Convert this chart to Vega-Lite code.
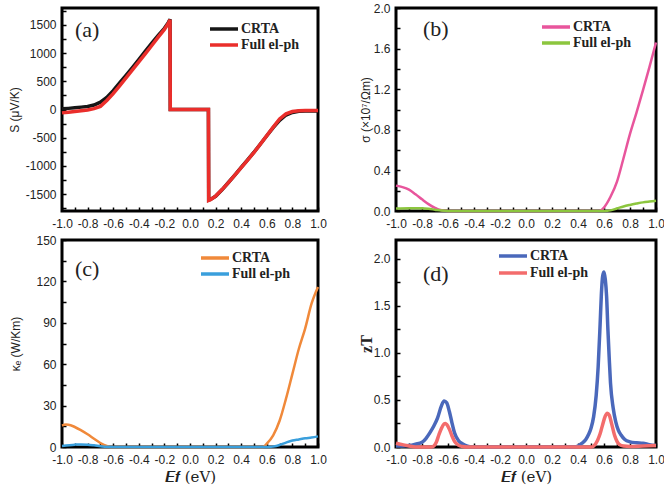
{
  "$schema": "https://vega.github.io/schema/vega-lite/v6.json",
  "padding": {"left": 6, "top": 0, "right": 0, "bottom": 4},
  "columns": 2,
  "spacing": {"row": 29, "column": 78},
  "bounds": "flush",
  "resolve": {
    "scale": {"x": "independent", "y": "independent", "color": "independent"},
    "legend": {"color": "independent"}
  },
  "config": {
    "view": {"stroke": "#000", "strokeWidth": 3},
    "axis": {
      "domain": false, "grid": false,
      "labelFont": "Liberation Sans", "labelFontSize": 12, "labelColor": "#222",
      "tickColor": "#000", "tickWidth": 1.5, "tickSize": -4, "labelPadding": 10,
      "labelOverlap": false, "labelFlush": false,
      "titleFont": "Liberation Sans", "titleFontSize": 12, "titleFontWeight": "normal", "titleColor": "#222"
    },
    "axisX": {"labelPadding": 11},
    "legend": {
      "orient": "none", "symbolType": "M-2,0H2", "symbolSize": 196, "symbolStrokeWidth": 3.5,
      "labelFont": "Liberation Serif", "labelFontWeight": "bold", "labelFontSize": 14,
      "labelColor": "#222", "rowPadding": 0, "labelOffset": 8
    },
    "title": {
      "anchor": "start", "frame": "group", "font": "Liberation Serif", "fontSize": 22,
      "fontWeight": "normal", "color": "#222"
    }
  },
  "datasets": {
    "a": [
      {"x": -1, "s": "CRTA", "v": 12}, {"x": -0.95, "s": "CRTA", "v": 20}, {"x": -0.9, "s": "CRTA", "v": 30},
      {"x": -0.85, "s": "CRTA", "v": 42}, {"x": -0.8, "s": "CRTA", "v": 55}, {"x": -0.75, "s": "CRTA", "v": 80},
      {"x": -0.7, "s": "CRTA", "v": 130}, {"x": -0.65, "s": "CRTA", "v": 215}, {"x": -0.6, "s": "CRTA", "v": 335},
      {"x": -0.55, "s": "CRTA", "v": 470}, {"x": -0.5, "s": "CRTA", "v": 607}, {"x": -0.45, "s": "CRTA", "v": 745},
      {"x": -0.4, "s": "CRTA", "v": 887}, {"x": -0.35, "s": "CRTA", "v": 1030}, {"x": -0.3, "s": "CRTA", "v": 1172},
      {"x": -0.25, "s": "CRTA", "v": 1310}, {"x": -0.2, "s": "CRTA", "v": 1440}, {"x": -0.17, "s": "CRTA", "v": 1540},
      {"x": -0.156, "s": "CRTA", "v": 1600}, {"x": -0.154, "s": "CRTA", "v": 0}, {"x": 0, "s": "CRTA", "v": 0},
      {"x": 0.144, "s": "CRTA", "v": 0}, {"x": 0.146, "s": "CRTA", "v": -1605}, {"x": 0.16, "s": "CRTA", "v": -1595},
      {"x": 0.2, "s": "CRTA", "v": -1540}, {"x": 0.25, "s": "CRTA", "v": -1425}, {"x": 0.3, "s": "CRTA", "v": -1295},
      {"x": 0.35, "s": "CRTA", "v": -1162}, {"x": 0.4, "s": "CRTA", "v": -1028}, {"x": 0.45, "s": "CRTA", "v": -893},
      {"x": 0.5, "s": "CRTA", "v": -758}, {"x": 0.55, "s": "CRTA", "v": -612}, {"x": 0.6, "s": "CRTA", "v": -466},
      {"x": 0.65, "s": "CRTA", "v": -322}, {"x": 0.7, "s": "CRTA", "v": -192}, {"x": 0.75, "s": "CRTA", "v": -98},
      {"x": 0.8, "s": "CRTA", "v": -52}, {"x": 0.85, "s": "CRTA", "v": -32}, {"x": 0.9, "s": "CRTA", "v": -26},
      {"x": 0.95, "s": "CRTA", "v": -24}, {"x": 1, "s": "CRTA", "v": -26},
      {"x": -1, "s": "Full el-ph", "v": -60}, {"x": -0.95, "s": "Full el-ph", "v": -48}, {"x": -0.9, "s": "Full el-ph", "v": -35},
      {"x": -0.85, "s": "Full el-ph", "v": -22}, {"x": -0.8, "s": "Full el-ph", "v": -10}, {"x": -0.75, "s": "Full el-ph", "v": 15},
      {"x": -0.7, "s": "Full el-ph", "v": 55}, {"x": -0.65, "s": "Full el-ph", "v": 160}, {"x": -0.6, "s": "Full el-ph", "v": 280},
      {"x": -0.55, "s": "Full el-ph", "v": 420}, {"x": -0.5, "s": "Full el-ph", "v": 560}, {"x": -0.45, "s": "Full el-ph", "v": 702},
      {"x": -0.4, "s": "Full el-ph", "v": 845}, {"x": -0.35, "s": "Full el-ph", "v": 987}, {"x": -0.3, "s": "Full el-ph", "v": 1130},
      {"x": -0.25, "s": "Full el-ph", "v": 1278}, {"x": -0.2, "s": "Full el-ph", "v": 1420}, {"x": -0.17, "s": "Full el-ph", "v": 1525},
      {"x": -0.156, "s": "Full el-ph", "v": 1590}, {"x": -0.154, "s": "Full el-ph", "v": 0}, {"x": 0, "s": "Full el-ph", "v": 0},
      {"x": 0.144, "s": "Full el-ph", "v": 0}, {"x": 0.146, "s": "Full el-ph", "v": -1612}, {"x": 0.16, "s": "Full el-ph", "v": -1600},
      {"x": 0.2, "s": "Full el-ph", "v": -1535}, {"x": 0.25, "s": "Full el-ph", "v": -1420}, {"x": 0.3, "s": "Full el-ph", "v": -1297},
      {"x": 0.35, "s": "Full el-ph", "v": -1165}, {"x": 0.4, "s": "Full el-ph", "v": -1030}, {"x": 0.45, "s": "Full el-ph", "v": -896},
      {"x": 0.5, "s": "Full el-ph", "v": -762}, {"x": 0.55, "s": "Full el-ph", "v": -614}, {"x": 0.6, "s": "Full el-ph", "v": -464},
      {"x": 0.65, "s": "Full el-ph", "v": -312}, {"x": 0.7, "s": "Full el-ph", "v": -168}, {"x": 0.75, "s": "Full el-ph", "v": -78},
      {"x": 0.8, "s": "Full el-ph", "v": -36}, {"x": 0.85, "s": "Full el-ph", "v": -22}, {"x": 0.9, "s": "Full el-ph", "v": -18},
      {"x": 0.95, "s": "Full el-ph", "v": -16}, {"x": 1, "s": "Full el-ph", "v": -18}
    ],
    "b": [
      {"x": -1, "s": "CRTA", "v": 0.25}, {"x": -0.95, "s": "CRTA", "v": 0.235}, {"x": -0.9, "s": "CRTA", "v": 0.21},
      {"x": -0.85, "s": "CRTA", "v": 0.165}, {"x": -0.8, "s": "CRTA", "v": 0.115}, {"x": -0.75, "s": "CRTA", "v": 0.068},
      {"x": -0.7, "s": "CRTA", "v": 0.03}, {"x": -0.65, "s": "CRTA", "v": 0.007}, {"x": -0.6, "s": "CRTA", "v": 0},
      {"x": 0, "s": "CRTA", "v": 0}, {"x": 0.55, "s": "CRTA", "v": 0}, {"x": 0.58, "s": "CRTA", "v": 0.01},
      {"x": 0.6, "s": "CRTA", "v": 0.035}, {"x": 0.65, "s": "CRTA", "v": 0.14}, {"x": 0.7, "s": "CRTA", "v": 0.29},
      {"x": 0.75, "s": "CRTA", "v": 0.52}, {"x": 0.8, "s": "CRTA", "v": 0.76}, {"x": 0.85, "s": "CRTA", "v": 0.97},
      {"x": 0.9, "s": "CRTA", "v": 1.19}, {"x": 0.95, "s": "CRTA", "v": 1.42}, {"x": 1, "s": "CRTA", "v": 1.66},
      {"x": -1, "s": "Full el-ph", "v": 0.025}, {"x": -0.9, "s": "Full el-ph", "v": 0.028}, {"x": -0.8, "s": "Full el-ph", "v": 0.027},
      {"x": -0.75, "s": "Full el-ph", "v": 0.022}, {"x": -0.7, "s": "Full el-ph", "v": 0.013}, {"x": -0.65, "s": "Full el-ph", "v": 0.004},
      {"x": -0.6, "s": "Full el-ph", "v": 0}, {"x": 0, "s": "Full el-ph", "v": 0}, {"x": 0.6, "s": "Full el-ph", "v": 0},
      {"x": 0.65, "s": "Full el-ph", "v": 0.006}, {"x": 0.7, "s": "Full el-ph", "v": 0.025}, {"x": 0.75, "s": "Full el-ph", "v": 0.045},
      {"x": 0.8, "s": "Full el-ph", "v": 0.06}, {"x": 0.85, "s": "Full el-ph", "v": 0.073}, {"x": 0.9, "s": "Full el-ph", "v": 0.085},
      {"x": 0.95, "s": "Full el-ph", "v": 0.093}, {"x": 1, "s": "Full el-ph", "v": 0.1}
    ],
    "c": [
      {"x": -1, "s": "CRTA", "v": 15.5}, {"x": -0.97, "s": "CRTA", "v": 16.3}, {"x": -0.95, "s": "CRTA", "v": 16.2},
      {"x": -0.9, "s": "CRTA", "v": 14.5}, {"x": -0.85, "s": "CRTA", "v": 12}, {"x": -0.8, "s": "CRTA", "v": 9.2},
      {"x": -0.75, "s": "CRTA", "v": 6}, {"x": -0.7, "s": "CRTA", "v": 2.9}, {"x": -0.65, "s": "CRTA", "v": 0.7},
      {"x": -0.62, "s": "CRTA", "v": 0}, {"x": 0, "s": "CRTA", "v": 0}, {"x": 0.57, "s": "CRTA", "v": 0},
      {"x": 0.6, "s": "CRTA", "v": 2.4}, {"x": 0.65, "s": "CRTA", "v": 8.5}, {"x": 0.7, "s": "CRTA", "v": 19},
      {"x": 0.75, "s": "CRTA", "v": 35}, {"x": 0.8, "s": "CRTA", "v": 53}, {"x": 0.85, "s": "CRTA", "v": 71},
      {"x": 0.9, "s": "CRTA", "v": 86}, {"x": 0.95, "s": "CRTA", "v": 104}, {"x": 1, "s": "CRTA", "v": 116},
      {"x": -1, "s": "Full el-ph", "v": 0.8}, {"x": -0.9, "s": "Full el-ph", "v": 1.7}, {"x": -0.85, "s": "Full el-ph", "v": 1.9},
      {"x": -0.8, "s": "Full el-ph", "v": 1.7}, {"x": -0.75, "s": "Full el-ph", "v": 1.2}, {"x": -0.7, "s": "Full el-ph", "v": 0.6},
      {"x": -0.65, "s": "Full el-ph", "v": 0.1}, {"x": -0.6, "s": "Full el-ph", "v": 0}, {"x": 0, "s": "Full el-ph", "v": 0},
      {"x": 0.62, "s": "Full el-ph", "v": 0}, {"x": 0.65, "s": "Full el-ph", "v": 0.3}, {"x": 0.7, "s": "Full el-ph", "v": 1.4},
      {"x": 0.75, "s": "Full el-ph", "v": 3.2}, {"x": 0.8, "s": "Full el-ph", "v": 4.7}, {"x": 0.85, "s": "Full el-ph", "v": 5.5},
      {"x": 0.9, "s": "Full el-ph", "v": 6.3}, {"x": 0.95, "s": "Full el-ph", "v": 6.9}, {"x": 1, "s": "Full el-ph", "v": 7.7}
    ],
    "d": [
      {"x": -1, "s": "CRTA", "v": 0.01}, {"x": -0.95, "s": "CRTA", "v": 0.01}, {"x": -0.9, "s": "CRTA", "v": 0.015},
      {"x": -0.85, "s": "CRTA", "v": 0.03}, {"x": -0.8, "s": "CRTA", "v": 0.05}, {"x": -0.77, "s": "CRTA", "v": 0.09},
      {"x": -0.74, "s": "CRTA", "v": 0.15}, {"x": -0.71, "s": "CRTA", "v": 0.22}, {"x": -0.68, "s": "CRTA", "v": 0.31},
      {"x": -0.65, "s": "CRTA", "v": 0.44}, {"x": -0.63, "s": "CRTA", "v": 0.49}, {"x": -0.61, "s": "CRTA", "v": 0.47},
      {"x": -0.59, "s": "CRTA", "v": 0.38}, {"x": -0.57, "s": "CRTA", "v": 0.26}, {"x": -0.55, "s": "CRTA", "v": 0.15},
      {"x": -0.52, "s": "CRTA", "v": 0.07}, {"x": -0.49, "s": "CRTA", "v": 0.035}, {"x": -0.45, "s": "CRTA", "v": 0.01},
      {"x": -0.4, "s": "CRTA", "v": 0}, {"x": 0.35, "s": "CRTA", "v": 0}, {"x": 0.4, "s": "CRTA", "v": 0.01},
      {"x": 0.43, "s": "CRTA", "v": 0.04}, {"x": 0.46, "s": "CRTA", "v": 0.08}, {"x": 0.48, "s": "CRTA", "v": 0.13},
      {"x": 0.5, "s": "CRTA", "v": 0.2}, {"x": 0.52, "s": "CRTA", "v": 0.32}, {"x": 0.54, "s": "CRTA", "v": 0.55},
      {"x": 0.555, "s": "CRTA", "v": 0.85}, {"x": 0.57, "s": "CRTA", "v": 1.3}, {"x": 0.58, "s": "CRTA", "v": 1.63},
      {"x": 0.59, "s": "CRTA", "v": 1.82}, {"x": 0.6, "s": "CRTA", "v": 1.86}, {"x": 0.61, "s": "CRTA", "v": 1.78},
      {"x": 0.62, "s": "CRTA", "v": 1.6}, {"x": 0.63, "s": "CRTA", "v": 1.25}, {"x": 0.64, "s": "CRTA", "v": 0.95},
      {"x": 0.65, "s": "CRTA", "v": 0.68}, {"x": 0.67, "s": "CRTA", "v": 0.42}, {"x": 0.69, "s": "CRTA", "v": 0.27},
      {"x": 0.71, "s": "CRTA", "v": 0.18}, {"x": 0.73, "s": "CRTA", "v": 0.13}, {"x": 0.76, "s": "CRTA", "v": 0.08},
      {"x": 0.8, "s": "CRTA", "v": 0.055}, {"x": 0.85, "s": "CRTA", "v": 0.045}, {"x": 0.9, "s": "CRTA", "v": 0.04},
      {"x": 0.95, "s": "CRTA", "v": 0.025}, {"x": 1, "s": "CRTA", "v": 0.015},
      {"x": -1, "s": "Full el-ph", "v": 0.04}, {"x": -0.95, "s": "Full el-ph", "v": 0.025}, {"x": -0.9, "s": "Full el-ph", "v": 0.01},
      {"x": -0.85, "s": "Full el-ph", "v": 0}, {"x": -0.73, "s": "Full el-ph", "v": 0}, {"x": -0.71, "s": "Full el-ph", "v": 0.01},
      {"x": -0.69, "s": "Full el-ph", "v": 0.05}, {"x": -0.67, "s": "Full el-ph", "v": 0.13}, {"x": -0.65, "s": "Full el-ph", "v": 0.2},
      {"x": -0.63, "s": "Full el-ph", "v": 0.245}, {"x": -0.62, "s": "Full el-ph", "v": 0.25}, {"x": -0.61, "s": "Full el-ph", "v": 0.24},
      {"x": -0.59, "s": "Full el-ph", "v": 0.19}, {"x": -0.57, "s": "Full el-ph", "v": 0.12}, {"x": -0.55, "s": "Full el-ph", "v": 0.06},
      {"x": -0.52, "s": "Full el-ph", "v": 0.02}, {"x": -0.49, "s": "Full el-ph", "v": 0.005}, {"x": -0.45, "s": "Full el-ph", "v": 0},
      {"x": 0.5, "s": "Full el-ph", "v": 0}, {"x": 0.52, "s": "Full el-ph", "v": 0.01}, {"x": 0.55, "s": "Full el-ph", "v": 0.07},
      {"x": 0.57, "s": "Full el-ph", "v": 0.14}, {"x": 0.59, "s": "Full el-ph", "v": 0.24}, {"x": 0.61, "s": "Full el-ph", "v": 0.33},
      {"x": 0.625, "s": "Full el-ph", "v": 0.36}, {"x": 0.64, "s": "Full el-ph", "v": 0.34}, {"x": 0.66, "s": "Full el-ph", "v": 0.24},
      {"x": 0.68, "s": "Full el-ph", "v": 0.13}, {"x": 0.7, "s": "Full el-ph", "v": 0.06}, {"x": 0.72, "s": "Full el-ph", "v": 0.025},
      {"x": 0.75, "s": "Full el-ph", "v": 0.01}, {"x": 0.8, "s": "Full el-ph", "v": 0.005}, {"x": 0.9, "s": "Full el-ph", "v": 0.01},
      {"x": 1, "s": "Full el-ph", "v": 0.015}
    ]
  },
  "concat": [
    {
      "width": 256, "height": 203,
      "title": {"text": "(a)", "dx": 13, "offset": -37},
      "data": {"name": "a"},
      "mark": {"type": "line", "strokeWidth": 3.5},
      "encoding": {
        "x": {"field": "x", "type": "quantitative", "scale": {"domain": [-1, 1]},
          "axis": {"title": null, "labelOverlap": false, "values": [-1, -0.9, -0.8, -0.7, -0.6, -0.5, -0.4, -0.3, -0.2, -0.1, 0, 0.1, 0.2, 0.3, 0.4, 0.5, 0.6, 0.7, 0.8, 0.9, 1],
            "labelExpr": "abs(round(datum.value*10))%2==0 ? replace(format(datum.value,'.1f'),'−','-') : ''"}},
        "y": {"field": "v", "type": "quantitative", "scale": {"domain": [-1800, 1800], "nice": false},
          "axis": {"title": "S (μV/K)", "titleX": -41, "labelOverlap": false, "values": [-1750, -1500, -1250, -1000, -750, -500, -250, 0, 250, 500, 750, 1000, 1250, 1500, 1750],
            "labelExpr": "abs(datum.value)%500==0 ? replace(format(datum.value,'d'),'−','-') : ''"}},
        "color": {"field": "s", "type": "nominal",
          "scale": {"domain": ["CRTA", "Full el-ph"], "range": ["#161616", "#ea2e2b"]},
          "legend": {"title": null, "orient": "none", "legendX": 153, "legendY": 12}}
      }
    },
    {
      "width": 260, "height": 203,
      "title": {"text": "(b)", "dx": 27, "offset": -39},
      "data": {"name": "b"},
      "mark": {"type": "line", "strokeWidth": 2.5, "interpolate": "monotone"},
      "encoding": {
        "x": {"field": "x", "type": "quantitative", "scale": {"domain": [-1, 1]},
          "axis": {"title": null, "labelOverlap": false, "values": [-1, -0.9, -0.8, -0.7, -0.6, -0.5, -0.4, -0.3, -0.2, -0.1, 0, 0.1, 0.2, 0.3, 0.4, 0.5, 0.6, 0.7, 0.8, 0.9, 1],
            "labelExpr": "abs(round(datum.value*10))%2==0 ? replace(format(datum.value,'.1f'),'−','-') : ''"}},
        "y": {"field": "v", "type": "quantitative", "scale": {"domain": [0, 2], "nice": false},
          "axis": {"title": "σ (×10⁷/Ωm)", "titleX": -24, "labelOverlap": false, "values": [0, 0.2, 0.4, 0.6, 0.8, 1, 1.2, 1.4, 1.6, 1.8, 2],
            "labelExpr": "round(datum.value*10)%4==0 ? format(datum.value,'.1f') : ''"}},
        "color": {"field": "s", "type": "nominal",
          "scale": {"domain": ["CRTA", "Full el-ph"], "range": ["#e8559c", "#8cc63e"]},
          "legend": {"title": null, "orient": "none", "legendX": 151, "legendY": 10}}
      }
    },
    {
      "width": 256, "height": 207,
      "title": {"text": "(c)", "dx": 13, "offset": -47},
      "data": {"name": "c"},
      "mark": {"type": "line", "strokeWidth": 2.5, "interpolate": "monotone"},
      "encoding": {
        "x": {"field": "x", "type": "quantitative", "scale": {"domain": [-1, 1]},
          "axis": {"title": "𝑬𝒇 (eV)", "titleFont": "DejaVu Serif", "titleFontSize": 15, "titleY": 22, "labelOverlap": false,
            "values": [-1, -0.9, -0.8, -0.7, -0.6, -0.5, -0.4, -0.3, -0.2, -0.1, 0, 0.1, 0.2, 0.3, 0.4, 0.5, 0.6, 0.7, 0.8, 0.9, 1],
            "labelExpr": "abs(round(datum.value*10))%2==0 ? replace(format(datum.value,'.1f'),'−','-') : ''"}},
        "y": {"field": "v", "type": "quantitative", "scale": {"domain": [0, 150], "nice": false},
          "axis": {"title": "κₑ (W/Km)", "titleX": -40, "labelOverlap": false, "values": [0, 15, 30, 45, 60, 75, 90, 105, 120, 135, 150],
            "labelExpr": "datum.value%30==0 ? format(datum.value,'d') : ''"}},
        "color": {"field": "s", "type": "nominal",
          "scale": {"domain": ["CRTA", "Full el-ph"], "range": ["#f0893a", "#3a9fdc"]},
          "legend": {"title": null, "orient": "none", "legendX": 144, "legendY": 9}}
      }
    },
    {
      "width": 260, "height": 207,
      "title": {"text": "(d)", "dx": 27, "offset": -46},
      "data": {"name": "d"},
      "mark": {"type": "line", "strokeWidth": 3.5, "interpolate": "monotone"},
      "encoding": {
        "x": {"field": "x", "type": "quantitative", "scale": {"domain": [-1, 1]},
          "axis": {"title": "𝑬𝒇 (eV)", "titleFont": "DejaVu Serif", "titleFontSize": 15, "titleY": 22, "labelOverlap": false,
            "values": [-1, -0.9, -0.8, -0.7, -0.6, -0.5, -0.4, -0.3, -0.2, -0.1, 0, 0.1, 0.2, 0.3, 0.4, 0.5, 0.6, 0.7, 0.8, 0.9, 1],
            "labelExpr": "abs(round(datum.value*10))%2==0 ? replace(format(datum.value,'.1f'),'−','-') : ''"}},
        "y": {"field": "v", "type": "quantitative", "scale": {"domain": [0, 2.2], "nice": false},
          "axis": {"title": "zT", "titleFont": "Liberation Serif", "titleFontSize": 16, "titleFontWeight": "bold", "titleX": -22, "labelOverlap": false,
            "values": [0, 0.25, 0.5, 0.75, 1, 1.25, 1.5, 1.75, 2],
            "labelExpr": "round(datum.value*100)%50==0 ? format(datum.value,'.1f') : ''"}},
        "color": {"field": "s", "type": "nominal",
          "scale": {"domain": ["CRTA", "Full el-ph"], "range": ["#4a68bb", "#f36c6c"]},
          "legend": {"title": null, "orient": "none", "legendX": 108, "legendY": 7, "rowPadding": 1}}
      }
    }
  ]
}
